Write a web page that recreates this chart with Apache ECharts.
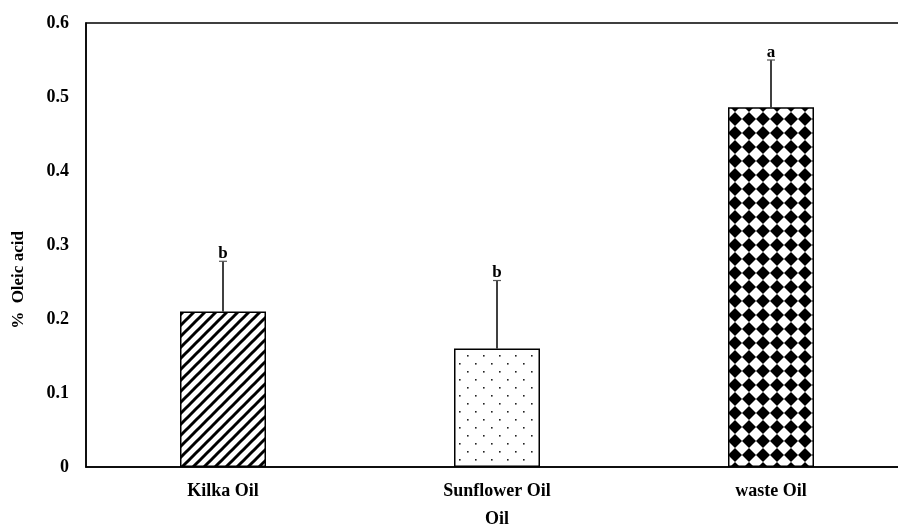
<!DOCTYPE html>
<html>
<head>
<meta charset="utf-8">
<script src="https://cdn.jsdelivr.net/npm/echarts@6/dist/echarts.min.js"></script>
<style>
html,body{margin:0;padding:0;background:#fff;overflow:hidden;}
#chart{width:898px;height:528px;}
</style>
</head>
<body>
<div id="chart"></div>
<script>
const categories = ['Kilka Oil', 'Sunflower Oil', 'waste Oil'];
const values = [0.21, 0.16, 0.486];
const errorTops = [0.278, 0.252, 0.55];
const letters = ['b', 'b', 'a'];
const yTicks = [0, 0.1, 0.2, 0.3, 0.4, 0.5, 0.6];

function makeCanvas(w, h) {
  const c = document.createElement('canvas');
  c.width = w; c.height = h;
  return c;
}
function stripePattern() {
  const s = 11;
  const c = makeCanvas(s, s);
  const g = c.getContext('2d');
  g.fillStyle = '#fff'; g.fillRect(0, 0, s, s);
  g.strokeStyle = '#000'; g.lineWidth = 3;
  for (let k = -1; k <= 1; k++) {
    g.beginPath();
    g.moveTo(k * s - 2, s + 2);
    g.lineTo(k * s + s + 2, -2);
    g.stroke();
  }
  return c;
}
function dotPattern() {
  const w = 16, h = 16;
  const c = makeCanvas(w, h);
  const g = c.getContext('2d');
  g.fillStyle = '#fff'; g.fillRect(0, 0, w, h);
  g.fillStyle = '#222';
  g.fillRect(3, 3, 1.6, 1.6);
  g.fillRect(11, 11, 1.6, 1.6);
  return c;
}
function diamondPattern() {
  const s = 14;
  const c = makeCanvas(s, s);
  const g = c.getContext('2d');
  g.fillStyle = '#fff'; g.fillRect(0, 0, s, s);
  g.fillStyle = '#000';
  g.beginPath();
  g.moveTo(s / 2, 0);
  g.lineTo(s, s / 2);
  g.lineTo(s / 2, s);
  g.lineTo(0, s / 2);
  g.closePath();
  g.fill();
  return c;
}
const patterns = [stripePattern(), dotPattern(), diamondPattern()];

const chart = echarts.init(document.getElementById('chart'), null, {renderer: 'canvas'});
const font = '"Liberation Serif", "Times New Roman", serif';

const option = {
  animation: false,
  grid: {
    left: 86, top: 23, bottom: 61, width: 822,
    containLabel: false,
    outerBoundsMode: 'none',
    show: true, borderColor: '#000', borderWidth: 1.5, backgroundColor: 'transparent'
  },
  xAxis: {
    type: 'category',
    data: categories,
    name: 'Oil',
    nameLocation: 'middle',
    nameGap: 43,
    nameTextStyle: {fontFamily: font, fontWeight: 'bold', fontSize: 18, color: '#000'},
    axisLine: {lineStyle: {color: '#000', width: 1.5}},
    axisTick: {show: false},
    axisLabel: {fontFamily: font, fontWeight: 'bold', fontSize: 18, color: '#000', margin: 15},
    splitLine: {show: false}
  },
  yAxis: {
    type: 'value',
    min: 0, max: 0.6, interval: 0.1,
    name: '%  Oleic acid',
    nameLocation: 'middle',
    nameGap: 59,
    nameRotate: 90,
    nameTextStyle: {fontFamily: font, fontWeight: 'bold', fontSize: 17, color: '#000', padding: [0, 70, 0, 0]},
    axisLine: {show: true, lineStyle: {color: '#000', width: 1.5}},
    axisTick: {show: false},
    splitLine: {show: false},
    axisLabel: {
      fontFamily: font, fontWeight: 'bold', fontSize: 18, color: '#000', margin: 17,
      formatter: v => {
        const t = yTicks.find(x => Math.abs(x - v) < 1e-9);
        return t === 0 ? '0' : String(t !== undefined ? t : v);
      }
    }
  },
  series: [
    {
      type: 'bar',
      barWidth: 86,
      data: values.map((v, i) => ({
        value: v,
        itemStyle: {
          color: {image: patterns[i], repeat: 'repeat'},
          borderColor: '#000', borderWidth: 1.5
        }
      })),
      z: 2
    },
    {
      type: 'custom',
      data: values.map((v, i) => [i, v, errorTops[i]]),
      z: 3,
      renderItem: function (params, api) {
        const i = api.value(0);
        const base = api.coord([i, api.value(1)]);
        const top = api.coord([i, api.value(2)]);
        const x = base[0];
        return {
          type: 'group',
          children: [
            {type: 'line', shape: {x1: x, y1: base[1], x2: x, y2: top[1]}, style: {stroke: '#000', lineWidth: 1.5}},
            {type: 'line', shape: {x1: x - 4, y1: top[1], x2: x + 4, y2: top[1]}, style: {stroke: '#555', lineWidth: 1.2}},
            {type: 'text', x: x, y: top[1] + 1, style: {
              text: letters[params.dataIndex], fill: '#000',
              font: 'bold 17px ' + font, align: 'center', verticalAlign: 'bottom'
            }}
          ]
        };
      }
    }
  ]
};
chart.setOption(option);
</script>
</body>
</html>
